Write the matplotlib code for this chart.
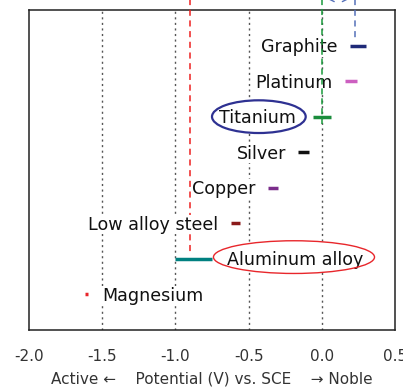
import matplotlib
matplotlib.use("Agg")
import matplotlib.pyplot as plt
from matplotlib.patches import Ellipse

plt.rcParams["font.family"] = ["DejaVu Sans"]
plt.rcParams["axes.unicode_minus"] = False

# Galvanic series: potential ranges (V vs. SCE), top row = most noble
metals = ["Graphite", "Platinum", "Titanium", "Silver", "Copper",
          "Low alloy steel", "Aluminum alloy", "Magnesium"]
pot_low = [0.19, 0.16, -0.06, -0.16, -0.37, -0.62, -1.00, -1.62]
pot_high = [0.30, 0.24, 0.06, -0.09, -0.30, -0.56, -0.75, -1.60]
bar_colors = ["#1f2a78", "#cc5fc0", "#1a8c3c", "#111111", "#7b2d8b",
              "#8b1a1a", "#008080", "#e8262b"]
label_side = ["left", "left", "left", "left", "left", "left", "right", "right"]

x_ticks = [-2.0, -1.5, -1.0, -0.5, 0.0, 0.5]
x_ticklabels = ["-2.0", "-1.5", "-1.0", "-0.5", "0.0", "0.5"]
grid_x = [-1.5, -1.0, -0.5, 0.0]

# Reference potentials marked with dashed lines
al_ref = -0.90
ti_ref = 0.0
gr_ref = 0.225

fig = plt.figure(figsize=(4.03, 3.88), dpi=100)
ax = fig.add_axes([29 / 403, 58 / 388, 366 / 403, 320 / 388])
ax.set_xlim(-2.0, 0.5)
ax.set_ylim(9, 0)
rows = list(range(1, len(metals) + 1))

for gx in grid_x:
    ax.axvline(gx, color="#555555", lw=1.0, ls=(0, (1.5, 2.5)), zorder=1)

for r, name, lo, hi, c, side in zip(rows, metals, pot_low, pot_high,
                                     bar_colors, label_side):
    ax.hlines(r, lo, hi, color=c, lw=2.5, capstyle="butt", zorder=5)
    gap = 12 if name == "Titanium" else 9
    if side == "left":
        ax.annotate(name, (lo, r), xytext=(-gap, -4.6), textcoords="offset points",
                    ha="right", va="baseline", fontsize=12.6, color="#111111",
                    bbox=dict(fc="white", ec="none", pad=0.5), zorder=4)
    else:
        ax.annotate(name, (hi, r), xytext=(10.5, -4.6), textcoords="offset points",
                    ha="left", va="baseline", fontsize=12.6, color="#111111",
                    bbox=dict(fc="white", ec="none", pad=0.5), zorder=4)

# Highlight ellipses around titanium and aluminum labels:
# white fill under the text, outline on top of it
for center, w, h, ec, lw in [((-0.43, 3.0), 0.64, 0.92, "#2e3192", 1.6),
                             ((-0.19, 6.95), 1.10, 0.92, "#e8262b", 1.0)]:
    ax.add_patch(Ellipse(center, w, h, fc="white", ec="none", zorder=3))
    ax.add_patch(Ellipse(center, w, h, fc="none", ec=ec, lw=lw, zorder=4.5))

# Dashed reference lines extending above the frame
ax.vlines(al_ref, -0.3, 6.83, color="#ee2020", lw=1.1, ls=(0, (4, 3)),
          clip_on=False, zorder=3.5)
ax.vlines(ti_ref, -0.3, 3.2, color="#1a9a3c", lw=1.1, ls=(0, (4, 2.5)),
          clip_on=False, zorder=6)
ax.vlines(gr_ref, -0.3, 0.85, color="#5570b8", lw=1.1, ls=(0, (4, 3)),
          clip_on=False, zorder=6)
ax.annotate("", xy=(gr_ref, -0.33), xytext=(ti_ref, -0.33),
            arrowprops=dict(arrowstyle="<->", color="#5570b8", lw=1.0,
                            shrinkA=3, shrinkB=3, mutation_scale=12),
            annotation_clip=False, zorder=6)

ax.set_xticks(x_ticks)
ax.set_xticklabels(x_ticklabels)
ax.set_yticks([])
ax.tick_params(axis="x", length=0, pad=14, labelsize=11, labelcolor="#333333")
for s in ax.spines.values():
    s.set_color("#222222")
    s.set_linewidth(1.1)
ax.set_xlabel("Active \u2190    Potential (V) vs. SCE    \u2192 Noble",
              fontsize=11, color="#333333", labelpad=5)

fig.savefig("out.png", dpi=100)
